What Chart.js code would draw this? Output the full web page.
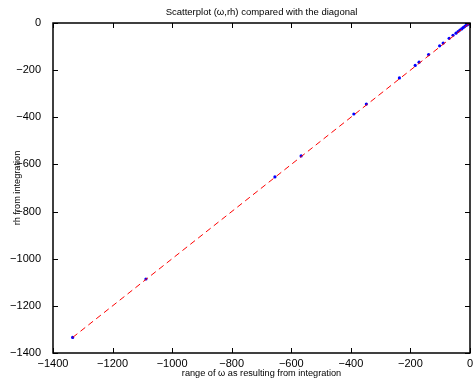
<!DOCTYPE html>
<html>
<head>
<meta charset="utf-8">
<script src="https://cdn.jsdelivr.net/npm/chart.js@4/dist/chart.umd.min.js"></script>
<style>
  html, body { margin: 0; padding: 0; background: #fff; }
  #wrap { width: 474px; height: 383px; }
</style>
</head>
<body>
<div id="wrap"><canvas id="scatterChart"></canvas></div>
<script>
// values
const omegaValues = [-1334, -1088, -655, -567, -390, -348, -237, -184, -171, -139, -102, -90, -70, -57, -47, -40, -34, -28, -23, -18, -14, -10, -7, -4, -2, -1, 0];
const rhValues    = [-1334, -1086, -653, -564, -386, -344, -233, -180, -166, -134, -97, -85, -65, -52, -43, -36, -30, -25, -20, -15, -11, -8, -5, -3, -1, 0, 0];
const diagonalEnds = [-1334, 0];
const axisTicks = [-1400, -1200, -1000, -800, -600, -400, -200, 0];

const FONT = 'Liberation Sans, Arial, Helvetica, sans-serif';
const minus = v => String(v).replace('-', '\u2212');

// MATLAB-like box with inward ticks on all four sides
const boxPlugin = {
    id: 'boxTicks',
    afterDatasetsDraw(chart) {
        const { ctx, chartArea: a, scales } = chart;
        const len = 5;
        ctx.save();
        ctx.strokeStyle = '#000';
        ctx.lineWidth = 1;
        ctx.beginPath();
        axisTicks.forEach(t => {
            const x = Math.round(scales.x.getPixelForValue(t)) + 0.5;
            ctx.moveTo(x, a.bottom); ctx.lineTo(x, a.bottom - len);
            ctx.moveTo(x, a.top); ctx.lineTo(x, a.top + len);
            const y = Math.round(scales.y.getPixelForValue(t)) + 0.5;
            ctx.moveTo(a.left, y); ctx.lineTo(a.left + len, y);
            ctx.moveTo(a.right, y); ctx.lineTo(a.right - len, y);
        });
        ctx.stroke();
        ctx.lineWidth = 1.5;
        ctx.strokeRect(a.left, a.top, a.right - a.left, a.bottom - a.top);
        ctx.restore();
    }
};

function fixX(scale) { scale.height = 30; scale.paddingLeft = 0; scale.paddingRight = 0; }
function fixTop(scale) { scale.height = 23; scale.paddingLeft = 0; scale.paddingRight = 0; }
function fixY(scale) { scale.width = 53; scale.paddingTop = 0; scale.paddingBottom = 0; }

document.addEventListener('DOMContentLoaded', () => {
    new Chart(document.getElementById('scatterChart'), {
        type: 'scatter',
        data: {
            datasets: [{
                label: 'diagonal',
                data: diagonalEnds.map(v => ({ x: v, y: v })),
                showLine: true,
                borderColor: '#ff0000',
                borderWidth: 1,
                borderDash: [6, 4],
                pointRadius: 0,
                fill: false
            }, {
                label: '(omega, rh)',
                data: omegaValues.map((v, i) => ({ x: v, y: rhValues[i] })),
                backgroundColor: '#0000ff',
                borderWidth: 0,
                pointRadius: 1.6
            }]
        },
        options: {
            responsive: true,
            maintainAspectRatio: false,
            animation: false,
            layout: { padding: { left: 0, right: -1, top: 0, bottom: 0 } },
            plugins: {
                legend: { display: false },
                tooltip: { enabled: false }
            },
            scales: {
                x: {
                    type: 'linear',
                    min: -1400, max: 0,
                    afterFit: fixX,
                    afterBuildTicks: s => { s.ticks = axisTicks.map(v => ({ value: v })); },
                    grid: { display: false },
                    border: { display: false },
                    ticks: {
                        color: '#000', padding: -4, maxRotation: 0,
                        font: { family: FONT, size: 11 },
                        callback: minus
                    },
                    title: {
                        display: true,
                        text: 'range of \u03c9 as resulting from integration',
                        color: '#000',
                        font: { family: FONT, size: 9.2 },
                        padding: { top: 0, bottom: 4 }
                    }
                },
                // top axis only carries the chart title, centred over the plot box
                top: {
                    type: 'linear',
                    position: 'top',
                    min: -1400, max: 0,
                    afterFit: fixTop,
                    grid: { display: false },
                    border: { display: false },
                    ticks: { display: false },
                    title: {
                        display: true,
                        text: 'Scatterplot (\u03c9,rh) compared with the diagonal',
                        color: '#000',
                        font: { family: FONT, size: 9.5 },
                        padding: { top: 7, bottom: 0 }
                    }
                },
                y: {
                    type: 'linear',
                    min: -1400, max: 0,
                    afterFit: fixY,
                    afterBuildTicks: s => { s.ticks = axisTicks.map(v => ({ value: v })); },
                    grid: { display: false },
                    border: { display: false },
                    ticks: {
                        color: '#000', padding: 4,
                        font: { family: FONT, size: 11 },
                        callback: minus
                    },
                    title: {
                        display: true,
                        text: 'rh from integration',
                        color: '#000',
                        font: { family: FONT, size: 9.2 },
                        padding: { top: 12, bottom: 0 }
                    }
                }
            }
        },
        plugins: [boxPlugin]
    });
});
</script>
</body>
</html>
